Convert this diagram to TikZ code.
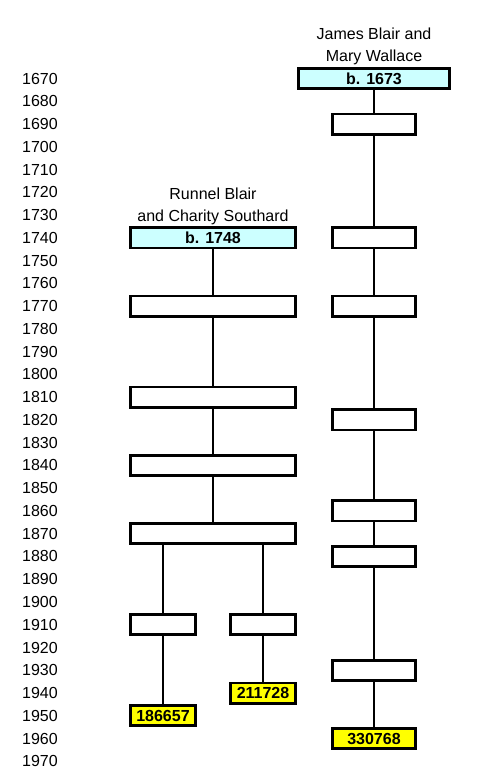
\documentclass[tikz,border=0pt]{standalone}
\usepackage{fontspec}
\setmainfont{Liberation Sans}
\usetikzlibrary{positioning}
\definecolor{boxcyan}{HTML}{CCFFFF}
\definecolor{kityellow}{HTML}{FFFF00}

\begin{document}
\begin{tikzpicture}[x=1pt,y=-1pt,font=\fontsize{16}{22}\selectfont,
  yr/.style={anchor=east,inner sep=0pt},
  gen/.style={rectangle,draw,line width=2.8pt,inner sep=0pt,minimum height=20.2pt,font=\fontsize{16}{22}\selectfont\bfseries},
  wide/.style={gen,minimum width=165.2pt},
  mid/.style={gen,minimum width=83.2pt},
  small/.style={gen,minimum width=65.2pt},
  couple/.style={fill=boxcyan},
  kit/.style={fill=kityellow},
  ttl/.style={align=center,inner sep=0pt},
  ln/.style={line width=2.8pt}]
  \useasboundingbox (0,0) rectangle (486,773);
  \foreach \yr in {1670,1680,...,1970}
    \node[yr] (y\yr) at (58,{78.5+(\yr-1670)*2.276}) {\yr};
  \node[gen,couple,minimum width=151.2pt] (jb) at (374,0 |- y1670) {b. 1673};
  \node[ttl,above=1.5pt of jb] (jbt) {James Blair and\\Mary Wallace};
  \node[mid] (r1) at (374,0 |- y1690) {};
  \node[mid] (r2) at (374,0 |- y1740) {};
  \node[mid] (r3) at (374,0 |- y1770) {};
  \node[mid] (r4) at (374,0 |- y1820) {};
  \node[mid] (r5) at (374,0 |- y1860) {};
  \node[mid] (r6) at (374,0 |- y1880) {};
  \node[mid] (r7) at (374,0 |- y1930) {};
  \node[mid,kit] (k3) at (374,0 |- y1960) {330768};
  \node[wide,couple] (rb) at (213,0 |- y1740) {b. 1748};
  \node[ttl,above=1.5pt of rb] (rbt) {Runnel Blair\\and Charity Southard};
  \node[wide] (l1) at (213,0 |- y1770) {};
  \node[wide] (l2) at (213,0 |- y1810) {};
  \node[wide] (l3) at (213,0 |- y1840) {};
  \node[wide] (l4) at (213,0 |- y1870) {};
  \node[small] (s1) at (163,0 |- y1910) {};
  \node[small] (s2) at (263,0 |- y1910) {};
  \node[small,kit] (k1) at (163,0 |- y1950) {186657};
  \node[small,kit] (k2) at (263,0 |- y1940) {211728};
  \draw[ln] (jb) -- (r1) -- (r2) -- (r3) -- (r4) -- (r5) -- (r6) -- (r7) -- (k3);
  \draw[ln] (rb) -- (l1) -- (l2) -- (l3) -- (l4);
  \draw[ln] (l4.south -| s1) -- (s1) -- (k1);
  \draw[ln] (l4.south -| s2) -- (s2) -- (k2);
\end{tikzpicture}
\end{document}
